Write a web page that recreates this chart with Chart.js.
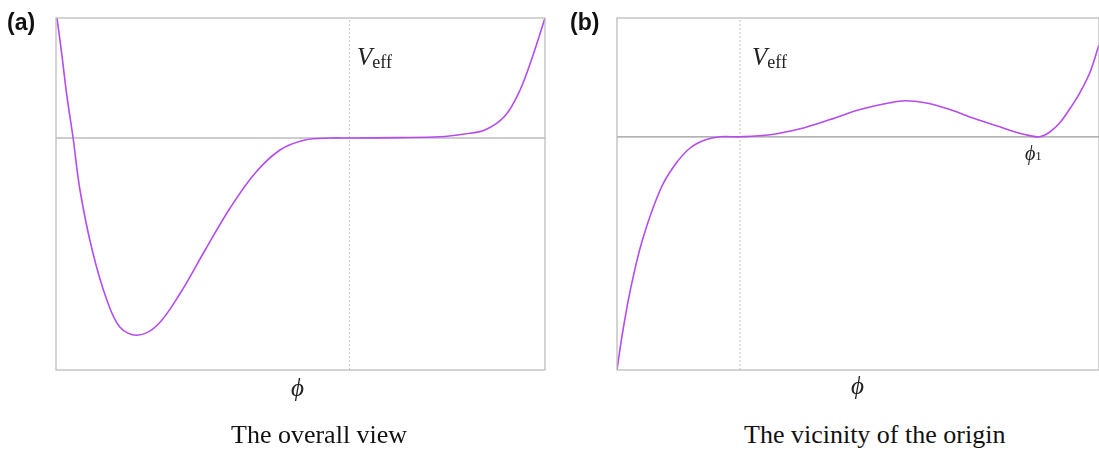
<!DOCTYPE html>
<html>
<head>
<meta charset="utf-8">
<script src="https://cdn.jsdelivr.net/npm/chart.js@4.4.1/dist/chart.umd.min.js"></script>
<style>
  body { margin: 0; background: #fff; width: 1099px; height: 451px; overflow: hidden; position: relative; }
  .box { position: absolute; top: 0; height: 380px; }
  .tag { position: absolute; font-family: "Liberation Sans", Arial, sans-serif; font-weight: bold; font-size: 23px; color: #111; }
  .lbl { position: absolute; font-family: "Liberation Serif", "DejaVu Serif", serif; color: #222; white-space: nowrap; }
  .cap { position: absolute; font-family: "Liberation Serif", "DejaVu Serif", serif; font-size: 26px; color: #111; white-space: nowrap; }
</style>
</head>
<body>
<div class="box" style="left:0;width:560px"><canvas id="chartA"></canvas></div>
<div class="box" style="left:560px;width:539px"><canvas id="chartB"></canvas></div>

<div class="tag" style="left:7px;top:9px">(a)</div>
<div class="tag" style="left:570px;top:9px">(b)</div>

<div class="lbl" style="left:357px;top:43px"><i style="font-size:25px">V</i><span style="font-size:18px;position:relative;top:3px">eff</span></div>
<div class="lbl" style="left:752px;top:43px"><i style="font-size:25px">V</i><span style="font-size:18px;position:relative;top:3px">eff</span></div>
<div class="lbl" style="left:1025px;top:142px"><i style="font-size:20px">ϕ</i><span style="font-size:13px">1</span></div>
<div class="lbl" style="left:291px;top:374px"><i style="font-size:25px">ϕ</i></div>
<div class="lbl" style="left:851px;top:372px"><i style="font-size:25px">ϕ</i></div>

<div class="cap" style="left:231px;top:420px">The overall view</div>
<div class="cap" style="left:744px;top:420px">The vicinity of the origin</div>

<script>
// panel (a): overall view
const phiA = [0.02, 0.12, 0.22, 0.35, 0.49, 0.74, 1.04, 1.31, 1.66, 2.07, 2.54, 3.05, 3.56, 4.07, 4.58, 5.09, 5.6, 6.0, 7.0, 7.85, 8.36, 8.77, 9.18, 9.49, 9.75, 10];
const vA   = [3.0, 2.08, 1.08, 0, -1.3, -2.8, -4.05, -4.73, -4.93, -4.68, -3.88, -2.8, -1.75, -0.88, -0.3, -0.05, 0, 0, 0.01, 0.03, 0.1, 0.2, 0.55, 1.2, 2.05, 3.0];
const originA = 6;

// panel (b): vicinity of the origin
const phiB = [-3.08, -2.95, -2.75, -2.45, -2.0, -1.63, -1.25, -0.88, -0.5, 0, 0.75, 1.5, 2.25, 3.0, 3.75, 4.13, 4.63, 5.25, 5.88, 6.5, 6.88, 7.25, 7.5, 7.75, 8.0, 8.25, 8.5, 8.75, 8.98];
const vB   = [-5.83, -4.95, -3.85, -2.6, -1.33, -0.7, -0.28, -0.08, 0, 0, 0.05, 0.2, 0.43, 0.68, 0.85, 0.9, 0.85, 0.68, 0.45, 0.25, 0.12, 0.03, 0, 0.12, 0.35, 0.7, 1.1, 1.6, 2.3];
const originB = 0;

const curveColor = '#b54cf0';

function frame(color) {
    return {
        id: 'frame',
        afterDraw(chart) {
            const a = chart.chartArea, ctx = chart.ctx;
            ctx.save();
            ctx.strokeStyle = color;
            ctx.lineWidth = 1.2;
            ctx.strokeRect(a.left, a.top, a.right - a.left, a.bottom - a.top);
            ctx.restore();
        }
    };
}

function makeChart(id, xs, ys, origin, xmin, xmax, ymin, ymax, pad) {
    const pts = xs.map((x, i) => ({ x: x, y: ys[i] }));
    new Chart(document.getElementById(id), {
        type: 'line',
        data: {
            datasets: [
                {
                    data: pts,
                    borderColor: curveColor,
                    borderWidth: 1.6,
                    pointRadius: 0,
                    tension: 0.35,
                    order: 0
                },
                {
                    data: [{ x: xmin, y: 0 }, { x: xmax, y: 0 }],
                    borderColor: '#9a9a9a',
                    borderWidth: 1.2,
                    pointRadius: 0,
                    order: 1
                },
                {
                    data: [{ x: origin, y: ymin }, { x: origin, y: ymax }],
                    borderColor: '#c4c4c4',
                    borderWidth: 1,
                    borderDash: [2, 2],
                    pointRadius: 0,
                    order: 2
                }
            ]
        },
        options: {
            responsive: true,
            maintainAspectRatio: false,
            animation: false,
            layout: { padding: pad },
            plugins: { legend: { display: false }, tooltip: { enabled: false } },
            scales: {
                x: { type: 'linear', min: xmin, max: xmax, display: false },
                y: { type: 'linear', min: ymin, max: ymax, display: false }
            }
        },
        plugins: [frame('#b8b8b8')]
    });
}

makeChart('chartA', phiA, vA, originA, 0, 10, -5.8, 3, { left: 56, top: 18, right: 15, bottom: 10 });
makeChart('chartB', phiB, vB, originB, -3.08, 8.98, -5.83, 2.97, { left: 57, top: 18, right: 0, bottom: 10 });
</script>
</body>
</html>
